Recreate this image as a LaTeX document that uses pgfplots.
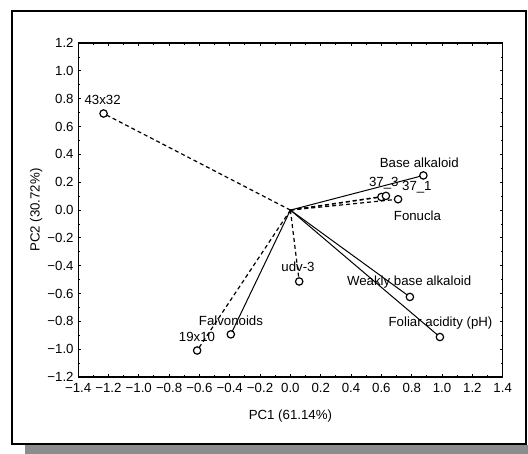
\documentclass[border=0pt]{standalone}
\usepackage{pgfplots}
\pgfplotsset{compat=1.18}
\usepackage{fontspec}
\setmainfont{Liberation Sans}
\newcommand{\ff}{\fontsize{13.3}{16}\selectfont}
\begin{document}
\begin{tikzpicture}
\path (0bp,0bp) rectangle (528bp,454bp);
\fill[black!45] (25bp,0bp) rectangle (528bp,9bp);
\draw[line width=2.2bp] (12bp,10bp) rectangle (526bp,443bp);
\begin{axis}[
  at={(78.1bp,76.9bp)}, anchor=south west,
  scale only axis, width=424.6bp, height=334bp,
  xmin=-1.4, xmax=1.4, ymin=-1.2, ymax=1.2,
  xtick={-1.4,-1.2,-1,-0.8,-0.6,-0.4,-0.2,0,0.2,0.4,0.6,0.8,1,1.2,1.4},
  xticklabels={−1.4,−1.2,−1.0,−0.8,−0.6,−0.4,−0.2,0.0,0.2,0.4,0.6,0.8,1.0,1.2,1.4},
  ytick={-1.2,-1,-0.8,-0.6,-0.4,-0.2,0,0.2,0.4,0.6,0.8,1,1.2},
  yticklabels={−1.2,−1.0,−0.8,−0.6,−0.4,−0.2,0.0,0.2,0.4,0.6,0.8,1.0,1.2},
  minor x tick num=1, minor y tick num=1,
  tick align=inside,
  major tick length=3bp, minor tick length=2bp,
  axis line style={line width=1.2bp},
  every tick/.style={line width=1bp, black},
  tick label style={font=\ff},
  xticklabel style={yshift=-3bp},
  yticklabel style={xshift=-1bp},
  label style={font=\ff},
  xlabel={PC1 (61.14\%)},
  ylabel={PC2 (30.72\%)},
  xlabel style={at={(rel axis cs:0.5,0)}, anchor=center, yshift=-39bp},
  ylabel style={at={(rel axis cs:0,0.5)}, anchor=center, rotate=0, yshift=42bp},
  clip=false,
]
% variable vectors (solid)
\addplot[black, line width=1bp] coordinates {(0,0) (0.877,0.249)};
\addplot[black, line width=1bp] coordinates {(0,0) (0.788,-0.624)};
\addplot[black, line width=1bp] coordinates {(0,0) (0.986,-0.912)};
\addplot[black, line width=1bp] coordinates {(0,0) (-0.393,-0.893)};
% genotype vectors (dashed)
\addplot[black, line width=1.2bp, dash pattern=on 4bp off 3bp] coordinates {(0,0) (-1.232,0.694)};
\addplot[black, line width=1.2bp, dash pattern=on 4bp off 3bp] coordinates {(0,0) (0.600,0.094)};
\addplot[black, line width=1.2bp, dash pattern=on 4bp off 3bp] coordinates {(0,0) (0.630,0.102)};
\addplot[black, line width=1.2bp, dash pattern=on 4bp off 3bp] coordinates {(0,0) (0.710,0.078)};
\addplot[black, line width=1.2bp, dash pattern=on 4bp off 3bp] coordinates {(0,0) (0.058,-0.513)};
\addplot[black, line width=1.2bp, dash pattern=on 4bp off 3bp] coordinates {(0,0) (-0.615,-1.009)};
% labels
\node[font=\ff, inner sep=0pt] at (axis cs:-1.238,0.791) {43x32};
\node[font=\ff, inner sep=0pt] at (axis cs:0.850,0.343) {Base alkaloid};
\node[font=\ff, inner sep=0pt] at (axis cs:0.616,0.191) {37\_3};
\node[font=\ff, inner sep=0pt] at (axis cs:0.834,0.167) {37\_1};
\node[font=\ff, inner sep=0pt] at (axis cs:0.838,-0.044) {Fonucla};
\node[font=\ff, inner sep=0pt] at (axis cs:0.050,-0.407) {udv-3};
\node[font=\ff, inner sep=0pt] at (axis cs:0.783,-0.518) {Weakly base alkaloid};
\node[font=\ff, inner sep=0pt] at (axis cs:0.990,-0.813) {Foliar acidity (pH)};
\node[font=\ff, inner sep=0pt] at (axis cs:-0.392,-0.793) {Falvonoids};
\node[font=\ff, inner sep=0pt] at (axis cs:-0.616,-0.914) {19x10};
% endpoint markers
\addplot[only marks, mark=*, mark size=3.7bp, mark options={fill=white, draw=black, line width=1.2bp}] coordinates {
(0.877,0.249) (0.788,-0.624) (0.986,-0.912) (-0.393,-0.893)
(-1.232,0.694) (0.600,0.094) (0.630,0.102) (0.710,0.078) (0.058,-0.513) (-0.615,-1.009)};
\end{axis}
\end{tikzpicture}
\end{document}
